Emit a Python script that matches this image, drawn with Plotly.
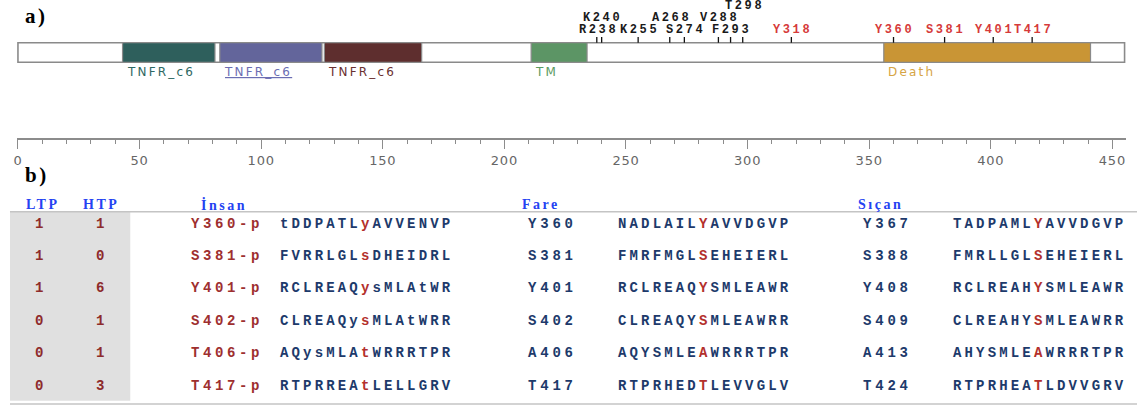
import plotly.graph_objects as go

W, H = 1139, 406

# ---------------- data: panel a ----------------
protein_length = 455
domain_names = ["TNFR_c6", "TNFR_c6", "TNFR_c6", "TM", "Death"]
domain_start = [43, 83, 126, 211, 356]
domain_end = [81, 125, 166, 234, 441]

site_labels = ["R238", "K240", "K255", "A268", "S274", "V288", "F293", "T298",
               "Y318", "Y360", "S381", "Y401", "T417"]
site_pos = [238, 240, 255, 268, 274, 288, 293, 298, 318, 360, 381, 401, 417]
site_highlight = [0, 0, 0, 0, 0, 0, 0, 0, 1, 1, 1, 1, 1]

axis_ticks = [0, 50, 100, 150, 200, 250, 300, 350, 400, 450]

# ---------------- data: panel b ----------------
ltp = [1, 1, 1, 0, 0, 0]
htp = [1, 0, 6, 1, 1, 3]
human_site = ["Y360-p", "S381-p", "Y401-p", "S402-p", "T406-p", "T417-p"]
human_seq = ["tDDPATLyAVVENVP", "FVRRLGLsDHEIDRL", "RCLREAQysMLAtWR",
             "CLREAQysMLAtWRR", "AQysMLAtWRRRTPR", "RTPRREAtLELLGRV"]
mouse_site = ["Y360", "S381", "Y401", "S402", "A406", "T417"]
mouse_seq = ["NADLAILYAVVDGVP", "FMRFMGLSEHEIERL", "RCLREAQYSMLEAWR",
             "CLREAQYSMLEAWRR", "AQYSMLEAWRRRTPR", "RTPRHEDTLEVVGLV"]
rat_site = ["Y367", "S388", "Y408", "S409", "A413", "T424"]
rat_seq = ["TADPAMLYAVVDGVP", "FMRLLGLSEHEIERL", "RCLREAHYSMLEAWR",
           "CLREAHYSMLEAWRR", "AHYSMLEAWRRRTPR", "RTPRHEATLDVVGRV"]
headers = ["LTP", "HTP", "İnsan", "Fare", "Sıçan"]

# ---------------- styles ----------------
domain_colors = ["#2e5f5c", "#63659b", "#5e2e2e", "#5c9565", "#c99535"]
domain_label_colors = ["#2e6762", "#6b6db3", "#6a3030", "#5a9a62", "#d6a444"]
site_row = [0, 1, 0, 1, 0, 1, 0, 2, 0, 0, 0, 0, 0]
row_y = [30, 17.7, 6]
NAVY = "#1d3a6b"
SEQRED = "#b3302c"
SITERED = "#9e2f2f"
NUMRED = "#8e2b2b"
HDRBLUE = "#2442f2"
MONO = "Liberation Mono"

# pixel mapping of panel a axis: px = 14 + 2.4407 * x
PX0, PXU = 14.0, 2.4407
def xval(px):
    return (px - PX0) / PXU

BAR_T, BAR_B = 42.7, 62.3  # in panel-a y units (pixels from top)

fig = go.Figure()

# site tick marks
tx, ty = [], []
for p in site_pos:
    tx += [p, p, None]
    ty += [37.0, BAR_T, None]
fig.add_trace(go.Scatter(x=tx, y=ty, mode="lines", line=dict(color="#111", width=1.3),
                         hoverinfo="skip", showlegend=False, xaxis="x", yaxis="y"))

shapes = []
annotations = []

# protein backbone
shapes.append(dict(type="rect", xref="x", yref="y", x0=0, x1=protein_length,
                   y0=BAR_T, y1=BAR_B, fillcolor="white",
                   line=dict(color="#8a8a8a", width=1.6), layer="below"))
for i, (s, e) in enumerate(zip(domain_start, domain_end)):
    shapes.append(dict(type="rect", xref="x", yref="y", x0=s, x1=e, y0=BAR_T, y1=BAR_B,
                       fillcolor=domain_colors[i], line=dict(color="#8a8a8a", width=1.2),
                       layer="below"))
    style = "letter-spacing:2.2px"
    if i == 1:
        style += ";text-decoration:underline"
    annotations.append(dict(xref="x", yref="y", x=s, y=71.7, xanchor="left", yanchor="middle",
                            xshift=2, showarrow=False,
                            text=f'<span style="{style}">{domain_names[i]}</span>',
                            font=dict(family="DejaVu Sans", size=12,
                                      color=domain_label_colors[i])))

for lab, p, r, hl in zip(site_labels, site_pos, site_row, site_highlight):
    annotations.append(dict(xref="x", yref="y", x=p, y=row_y[r], xanchor="center",
                            yanchor="middle", xshift=1.3, showarrow=False,
                            text=f'<b><span style="letter-spacing:2.6px">{lab}</span></b>',
                            font=dict(family=MONO, size=12,
                                      color="#d63a3a" if hl else "#1a1a1a")))

# panel letters
for t, py in [("a)", 16), ("b)", 175)]:
    annotations.append(dict(xref="paper", yref="paper", x=19 / W, y=1 - py / H,
                            xanchor="left", yanchor="middle", showarrow=False,
                            text=f'<b><span style="letter-spacing:2.5px">{t}</span></b>',
                            font=dict(family="Liberation Serif", size=21, color="black")))

# ---------------- table (x2 in pixel columns, y2 = row index) ----------------
ROW_PX0, ROW_STEP = 223.8, 32.34
def rowval(py):
    return (py - ROW_PX0) / ROW_STEP

hdr_x = [37.3, 96, 220, 537.3, 878.3]
for h, x in zip(headers, hdr_x):
    annotations.append(dict(xref="x2", yref="y2", x=x + 1.2, y=rowval(204.5), xanchor="center",
                            yanchor="middle", showarrow=False,
                            text=f'<b><span style="letter-spacing:2.5px">{h}</span></b>',
                            font=dict(family="Liberation Serif", size=14, color=HDRBLUE)))

SEQ_SP = 3.15
def seq_text(seq, base, hl):
    sp = f"letter-spacing:{SEQ_SP}px"
    return (f'<b><span style="{sp};color:{base}">{seq[:7]}</span>'
            f'<span style="{sp};color:{hl}">{seq[7]}</span>'
            f'<span style="{sp};color:{base}">{seq[8:]}</span></b>')

def mono(t, color, sp=3.6):
    return f'<b><span style="letter-spacing:{sp}px;color:{color}">{t}</span></b>'

for i in range(len(ltp)):
    cells = [
        (35, "center", mono(str(ltp[i]), NUMRED, 0)),
        (96, "center", mono(str(htp[i]), NUMRED, 0)),
        (186, "left", mono(human_site[i], SITERED)),
        (274.5, "left", seq_text(human_seq[i], NAVY, SEQRED)),
        (523.5, "left", mono(mouse_site[i], NAVY, 3.8)),
        (614, "left", seq_text(mouse_seq[i], NAVY, SEQRED)),
        (860, "left", mono(rat_site[i], NAVY, 3.8)),
        (950, "left", seq_text(rat_seq[i], NAVY, SEQRED)),
    ]
    for x, anc, txt in cells:
        annotations.append(dict(xref="x2", yref="y2", x=x, y=i, xanchor=anc, yanchor="middle",
                                showarrow=False, text=txt,
                                font=dict(family=MONO, size=14, color=NAVY)))

# table frame
shapes.append(dict(type="rect", xref="x2", yref="y2", x0=6, x1=126.7,
                   y0=rowval(211.7), y1=rowval(400.7), fillcolor="#e0e0e0",
                   line=dict(width=0), layer="below"))
for py in [211.7, 404]:
    shapes.append(dict(type="line", xref="x2", yref="y2", x0=6, x1=1137,
                       y0=rowval(py), y1=rowval(py), line=dict(color="#c4c4c4", width=1.5)))

# invisible anchor trace for the table axes
fig.add_trace(go.Scatter(x=[0] * len(ltp), y=list(range(len(ltp))), mode="markers",
                         marker=dict(opacity=0), hoverinfo="skip", showlegend=False,
                         xaxis="x2", yaxis="y2"))

AXIS_PY = 138.3
fig.update_layout(
    width=W, height=H, margin=dict(l=0, r=0, t=0, b=0),
    paper_bgcolor="white", plot_bgcolor="white", showlegend=False, hovermode=False,
    xaxis=dict(domain=[13 / W, 1126 / W], range=[xval(13), xval(1126)], anchor="y",
               showline=True, linecolor="#8c8c8c", linewidth=1.5,
               ticks="outside", ticklen=9, tickwidth=1.4, tickcolor="#8c8c8c",
               tickvals=axis_ticks,
               ticktext=[f'<span style="letter-spacing:0.8px">{v}</span>' for v in axis_ticks],
               tickfont=dict(family="DejaVu Sans", size=13, color="#666"),
               minor=dict(dtick=10, tick0=0, ticks="outside", ticklen=4, tickwidth=1.2,
                          tickcolor="#8c8c8c", showgrid=False),
               showgrid=False, zeroline=False, fixedrange=True),
    yaxis=dict(domain=[1 - AXIS_PY / H, 1], range=[AXIS_PY, 0], anchor="x",
               visible=False, fixedrange=True),
    xaxis2=dict(domain=[0, 1], range=[0, W], anchor="y2", visible=False, fixedrange=True),
    yaxis2=dict(domain=[0, 1 - 200 / H], range=[rowval(406), rowval(200)], anchor="x2",
                visible=False, fixedrange=True),
    shapes=shapes, annotations=annotations,
)

fig.write_html("out.html", config={"displayModeBar": False},
               post_script="document.body.style.margin='0';document.body.style.overflow='hidden';")
